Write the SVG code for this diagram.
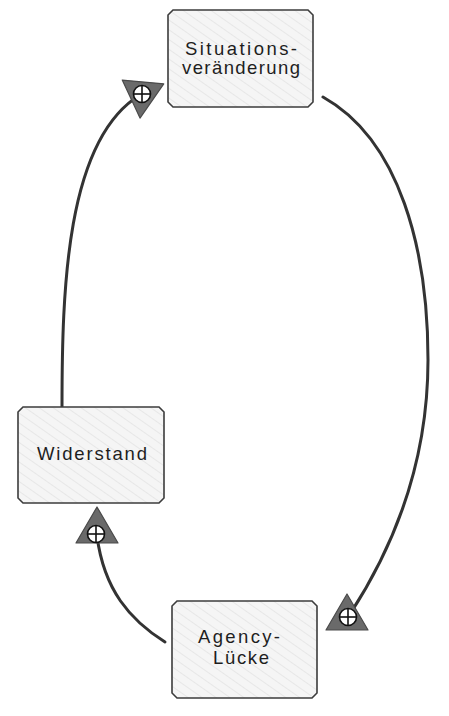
<svg xmlns="http://www.w3.org/2000/svg" width="449" height="716" viewBox="0 0 449 716">
<style>
.box{fill:url(#hatch);stroke:#3c3c3c;stroke-width:1.6}
.lbl{font-family:"Liberation Sans","DejaVu Sans",sans-serif;font-size:18.5px;fill:#1e1e1e;text-anchor:middle}
.con{fill:none;stroke:#333;stroke-width:3;stroke-linecap:round}
.tri{fill:#6a6a6a;stroke:#4a4a4a;stroke-width:1.2;stroke-linejoin:round}
.circ{fill:#fff;stroke:#111;stroke-width:1.6}
.plus{stroke:#111;stroke-width:1.6}
</style>
<defs>
<pattern id="hatch" width="8" height="8" patternUnits="userSpaceOnUse" patternTransform="rotate(-55)">
<rect width="8" height="8" fill="#f5f5f5"/>
<line x1="0" y1="0" x2="0" y2="8" stroke="#e3e3e3" stroke-width="1.5"/>
</pattern>
<polygon id="tri" class="tri" points="0,-24 21,12 -21,12"/>
<g id="pm">
<circle class="circ" r="8.5"/>
<line class="plus" x1="-8.5" y1="0" x2="8.5" y2="0"/>
<line class="plus" x1="0" y1="-8.5" x2="0" y2="8.5"/>
</g>
</defs>
<rect width="449" height="716" fill="#fff"/>
<g id="connectors">
<path class="con" d="M62,407 C62,290 66,140 140,95"/>
<path class="con" d="M323,97 C400,140 428,250 428,360 C428,460 395,545 350,614"/>
<path class="con" d="M165,642 C130,620 104,590 97,536"/>
<use href="#tri" transform="translate(142,94) rotate(65)"/>
<use href="#pm" transform="translate(142,94)"/>
<use href="#tri" transform="translate(347,618)"/>
<use href="#pm" transform="translate(348,617)"/>
<use href="#tri" transform="translate(97,531)"/>
<use href="#pm" transform="translate(96,534)"/>
</g>
<g id="node-situationsveraenderung">
<polygon class="box" points="173,10 308,10 313,15 313,102 308,107 173,107 168,102 168,15"/>
<text class="lbl" x="241" y="55" textLength="112" lengthAdjust="spacing">Situations-</text>
<text class="lbl" x="241" y="74" textLength="118" lengthAdjust="spacing">veränderung</text>
</g>
<g id="node-widerstand">
<polygon class="box" points="23,407 159,407 164,412 164,498 159,503 23,503 18,498 18,412"/>
<text class="lbl" x="92" y="460" textLength="110" lengthAdjust="spacing">Widerstand</text>
</g>
<g id="node-agency-luecke">
<polygon class="box" points="177,601 312,601 317,606 317,693 312,698 177,698 172,693 172,606"/>
<text class="lbl" x="239" y="643" textLength="82" lengthAdjust="spacing">Agency-</text>
<text class="lbl" x="241" y="664" textLength="56" lengthAdjust="spacing">Lücke</text>
</g>
</svg>
